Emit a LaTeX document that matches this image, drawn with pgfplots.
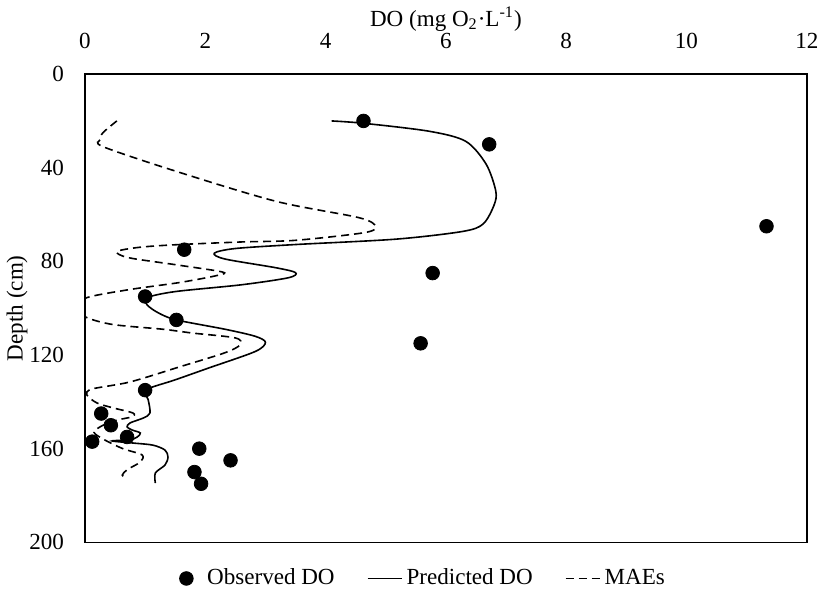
\documentclass[border=0pt]{standalone}
\usepackage{fontspec}
\setmainfont{Liberation Serif}
\usepackage{pgfplots}
\pgfplotsset{compat=1.18}

\begin{document}
\begin{tikzpicture}[font=\fontsize{11.5}{13}\selectfont]
\begin{axis}[
  scale only axis,
  width=360pt, height=233.5pt,
  xmin=0, xmax=12, ymin=0, ymax=200,
  y dir=reverse,
  xtick={0,2,...,12}, ytick={0,40,...,200},
  xticklabel pos=upper,
  xtick style={draw=none}, ytick style={draw=none},
  xticklabel style={yshift=9pt},
  yticklabel style={xshift=-7pt},
  /pgf/number format/assume math mode=true,
  xlabel={DO (mg O\textsubscript{2}·L\textsuperscript{-1})},
  xlabel style={at={(axis description cs:0.5,1.118)}, anchor=center},
  ylabel={Depth (cm)},
  ylabel style={at={(axis description cs:-0.094,0.5)}, anchor=center},
  axis line style={line width=0.75pt},
  legend columns=3,
  legend style={draw=none, at={(0.47,-0.039)}, anchor=north,
    /tikz/every even column/.append style={column sep=14pt},
    font=\fontsize{11.5}{13}\selectfont},
  legend cell align=left,
]

% observed
\addplot[only marks, mark=*, mark size=3.4pt, black]
  coordinates {(4.63,20) (6.72,30) (11.33,65) (1.65,75) (5.78,85) (1.0,95)
               (1.52,105) (5.58,115) (1.0,135) (0.27,145) (0.43,150) (0.7,155)
               (0.12,157) (1.9,160) (2.42,165) (1.82,170) (1.93,175)};
\addlegendentry{\hspace{5pt}Observed DO}

% predicted
\addplot[smooth, black, line width=0.8pt, no marks]
  coordinates {(4.1,20) (4.63,21) (5.72,24.4) (6.33,28.7) (6.67,38.5) (6.83,50)
               (6.8,56) (6.62,64) (6.28,67.2) (5.17,70.5) (3.5,72.8) (2.5,74.5)
               (2.15,76.5) (2.33,79) (3.17,82.7) (3.5,84.8) (3.38,87) (2.6,90)
               (1.5,92.9) (1.03,95.5) (1.03,98.5) (1.22,102) (1.52,105) (2.33,109)
               (2.83,112) (3.0,114.6) (2.83,118.5) (2.05,125.6) (1.5,130.6)
               (1.0,135) (1.05,139) (1.08,144.8) (0.97,146.9) (0.75,149)
               (0.7,150.7) (0.78,152) (0.92,153.3) (0.87,155) (0.75,156.2)
               (0.45,156.7) (0.8,157.6) (1.13,158.5) (1.33,160.6) (1.38,163.6)
               (1.33,167) (1.17,170.4) (1.17,174.7)};
\addlegendentry{Predicted DO}

% MAEs
\addplot[smooth, black, line width=0.8pt, dash pattern=on 4pt off 2.5pt, no marks]
  coordinates {(0.53,20) (0.3,25) (0.25,28) (0.3,31) (1.5,41.4) (3.17,54.3)
               (4.55,61.3) (4.83,65) (4.65,67.7) (3.5,71) (2.6,71.7) (1.5,72.9)
               (0.9,74) (0.53,75.8) (0.72,78.4) (1.5,81.4) (2.28,84.5) (2.2,86)
               (1.58,89) (0.75,92) (0.03,95.5) (-0.15,100) (0.03,104) (0.47,107)
               (1.3,109) (1.78,110.6) (2.5,112.7) (2.58,115.6) (2.33,119)
               (1.58,125) (0.75,131.5) (0.12,134.5) (0.03,137) (0.2,140.5)
               (0.47,142.6) (0.8,144.8) (0.78,146.4) (0.53,147.8) (0.3,150)
               (0.15,153) (0.33,156.3) (0.63,160) (0.95,162.7) (0.92,165.7)
               (0.7,169) (0.62,171.3) (0.67,172.6)};
\addlegendentry{MAEs}

\end{axis}
\end{tikzpicture}
\end{document}
